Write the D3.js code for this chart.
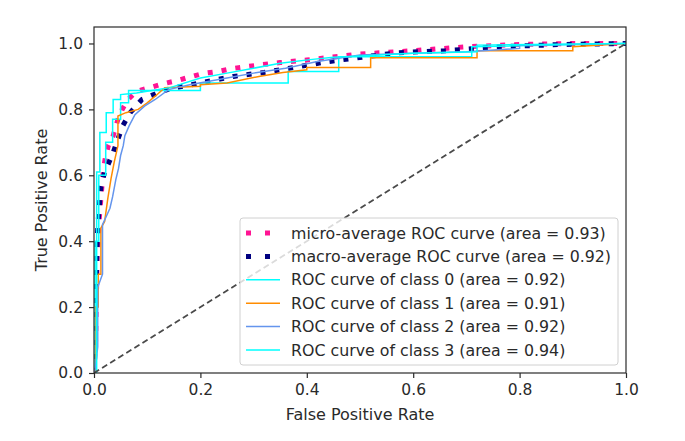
<!DOCTYPE html>
<html>
<head>
<meta charset="utf-8">
<script src="https://cdn.jsdelivr.net/npm/d3@7"></script>
<style>
  html, body { margin: 0; padding: 0; background: #fff; }
  svg { display: block; font-family: "DejaVu Sans", sans-serif; }
</style>
</head>
<body>
<svg id="chart" width="685" height="441"></svg>
<script>
// ---- data ----
const microFpr = [0, 0.003, 0.006, 0.01, 0.014, 0.018, 0.022, 0.027, 0.036, 0.045, 0.053, 0.064, 0.08, 0.105, 0.13, 0.156, 0.177, 0.205, 0.233, 0.26, 0.288, 0.316, 0.35, 0.4, 0.5, 0.6, 0.7, 0.8, 0.9, 1];
const microTpr = [0, 0.1, 0.35, 0.47, 0.55, 0.62, 0.66, 0.69, 0.72, 0.77, 0.8, 0.83, 0.855, 0.866, 0.878, 0.887, 0.897, 0.909, 0.915, 0.924, 0.93, 0.936, 0.942, 0.95, 0.968, 0.978, 0.99, 0.997, 1, 1];

const macroFpr = [0, 0.003, 0.006, 0.008, 0.013, 0.02, 0.034, 0.045, 0.054, 0.068, 0.09, 0.12, 0.143, 0.2, 0.23, 0.262, 0.32, 0.35, 0.44, 0.57, 0.66, 0.76, 0.88, 1];
const macroTpr = [0, 0.2, 0.41, 0.465, 0.565, 0.61, 0.66, 0.71, 0.75, 0.79, 0.83, 0.85, 0.863, 0.88, 0.89, 0.9, 0.912, 0.92, 0.945, 0.972, 0.978, 0.99, 0.997, 1];

const class0Fpr = [0, 0.002, 0.002, 0.009, 0.009, 0.022, 0.022, 0.035, 0.035, 0.05, 0.05, 0.065, 0.065, 0.105, 0.2, 0.2, 0.365, 0.365, 0.46, 0.46, 0.71, 0.71, 1];
const class0Tpr = [0, 0, 0.4, 0.4, 0.6, 0.6, 0.7, 0.7, 0.77, 0.77, 0.82, 0.82, 0.857, 0.857, 0.857, 0.88, 0.88, 0.915, 0.915, 0.96, 0.96, 0.99, 1];

const class1Fpr = [0, 0.004, 0.004, 0.008, 0.008, 0.013, 0.013, 0.02, 0.026, 0.032, 0.038, 0.045, 0.045, 0.06, 0.083, 0.1, 0.115, 0.133, 0.2, 0.2, 0.25, 0.31, 0.355, 0.4, 0.4, 0.52, 0.52, 0.72, 0.72, 0.9, 0.9, 1];
const class1Tpr = [0, 0, 0.2, 0.2, 0.3, 0.3, 0.44, 0.46, 0.53, 0.59, 0.64, 0.69, 0.78, 0.79, 0.8, 0.82, 0.84, 0.866, 0.87, 0.875, 0.88, 0.9, 0.912, 0.92, 0.927, 0.927, 0.957, 0.957, 0.978, 0.978, 0.99, 1];

const class2Fpr = [0, 0.003, 0.007, 0.007, 0.016, 0.016, 0.03, 0.035, 0.041, 0.046, 0.05, 0.055, 0.058, 0.066, 0.077, 0.095, 0.115, 0.14, 0.18, 0.25, 0.3, 0.36, 0.42, 0.5, 0.6, 0.7, 0.8, 0.8, 1];
const class2Tpr = [0, 0.02, 0.08, 0.26, 0.3, 0.45, 0.5, 0.535, 0.587, 0.62, 0.66, 0.69, 0.72, 0.75, 0.784, 0.81, 0.83, 0.86, 0.875, 0.895, 0.91, 0.925, 0.945, 0.965, 0.97, 0.975, 0.985, 0.995, 1];

const class3Fpr = [0, 0.005, 0.005, 0.011, 0.011, 0.023, 0.023, 0.036, 0.036, 0.05, 0.05, 0.08, 0.1, 0.143, 0.2, 0.25, 0.3, 0.35, 0.406, 0.45, 0.5, 0.6, 0.72, 0.72, 1];
const class3Tpr = [0, 0, 0.61, 0.61, 0.73, 0.73, 0.79, 0.79, 0.83, 0.83, 0.845, 0.85, 0.855, 0.866, 0.895, 0.91, 0.925, 0.94, 0.951, 0.958, 0.962, 0.97, 0.975, 0.995, 1];

const legendLabels = [
  "micro-average ROC curve (area = 0.93)",
  "macro-average ROC curve (area = 0.92)",
  "ROC curve of class 0 (area = 0.92)",
  "ROC curve of class 1 (area = 0.91)",
  "ROC curve of class 2 (area = 0.92)",
  "ROC curve of class 3 (area = 0.94)"
];
const tickValues = [0, 0.2, 0.4, 0.6, 0.8, 1.0];
const xLabel = "False Positive Rate";
const yLabel = "True Positive Rate";

// ---- layout ----
const svg = d3.select("#chart");
const L = 94, R = 626, T = 27, B = 373;
const x = d3.scaleLinear().domain([0, 1]).range([L, R]);
const y = d3.scaleLinear().domain([0, 1.05]).range([B, T]);
const textColor = "#2a2a2a";

svg.append("defs").append("clipPath").attr("id", "clip")
  .append("rect").attr("x", L).attr("y", T).attr("width", R - L).attr("height", B - T);

const series = [
  { fpr: microFpr, tpr: microTpr, color: "#ff1493", width: 5, dash: "5,9" },
  { fpr: macroFpr, tpr: macroTpr, color: "#000080", width: 5, dash: "5,9" },
  { fpr: class0Fpr, tpr: class0Tpr, color: "#00ffff", width: 1.5, dash: null },
  { fpr: class1Fpr, tpr: class1Tpr, color: "#ff8c00", width: 1.5, dash: null },
  { fpr: class2Fpr, tpr: class2Tpr, color: "#6495ed", width: 1.5, dash: null },
  { fpr: class3Fpr, tpr: class3Tpr, color: "#00ffff", width: 1.5, dash: null }
];

const line = d3.line().x(d => x(d[0])).y(d => y(d[1]));
const plot = svg.append("g").attr("clip-path", "url(#clip)");

series.forEach(s => {
  const pts = d3.zip(s.fpr, s.tpr);
  const p = plot.append("path").datum(pts)
    .attr("d", line)
    .attr("fill", "none")
    .attr("stroke", s.color)
    .attr("stroke-width", s.width)
    .attr("stroke-linejoin", "miter");
  if (s.dash) p.attr("stroke-dasharray", s.dash);
});

// diagonal
plot.append("path").datum([[0, 0], [1, 1]])
  .attr("d", line)
  .attr("fill", "none")
  .attr("stroke", "#4a4a4a")
  .attr("stroke-width", 1.8)
  .attr("stroke-dasharray", "6,3.5");

// axes
const fmt = d3.format(".1f");
const xAxis = svg.append("g").attr("transform", `translate(0,${B})`)
  .call(d3.axisBottom(x).tickValues(tickValues).tickFormat(fmt).tickSize(5).tickSizeOuter(0).tickPadding(6));
const yAxis = svg.append("g").attr("transform", `translate(${L},0)`)
  .call(d3.axisLeft(y).tickValues(tickValues).tickFormat(fmt).tickSize(5).tickSizeOuter(0).tickPadding(6));
[xAxis, yAxis].forEach(a => {
  a.select(".domain").remove();
  a.selectAll("text").attr("font-size", 15.5).attr("font-family", "DejaVu Sans, sans-serif").attr("fill", textColor);
  a.selectAll("line").attr("stroke", textColor).attr("stroke-width", 1.2);
});

// spines
svg.append("rect").attr("x", L).attr("y", T).attr("width", R - L).attr("height", B - T)
  .attr("fill", "none").attr("stroke", textColor).attr("stroke-width", 1.2);

// axis labels
svg.append("text").attr("x", (L + R) / 2).attr("y", 420)
  .attr("text-anchor", "middle").attr("font-size", 16).attr("fill", textColor).text(xLabel);
svg.append("text").attr("transform", `translate(47,${(T + B) / 2}) rotate(-90)`)
  .attr("text-anchor", "middle").attr("font-size", 16).attr("fill", textColor).text(yLabel);

// legend
const lg = svg.append("g");
lg.append("rect").attr("x", 240).attr("y", 218).attr("width", 378).attr("height", 147)
  .attr("rx", 3).attr("fill", "#fff").attr("fill-opacity", 0.8)
  .attr("stroke", "#d0d0d0").attr("stroke-width", 1);
legendLabels.forEach((lab, i) => {
  const cy = 233 + i * 23.4;
  const s = series[i];
  const h = lg.append("line").attr("x1", 246).attr("x2", 280).attr("y1", cy).attr("y2", cy)
    .attr("stroke", s.color).attr("stroke-width", s.width);
  if (s.dash) h.attr("stroke-dasharray", "5,14");
  lg.append("text").attr("x", 291).attr("y", cy).attr("dy", "0.36em")
    .attr("font-size", 15.8).attr("fill", textColor).text(lab);
});
</script>
</body>
</html>
